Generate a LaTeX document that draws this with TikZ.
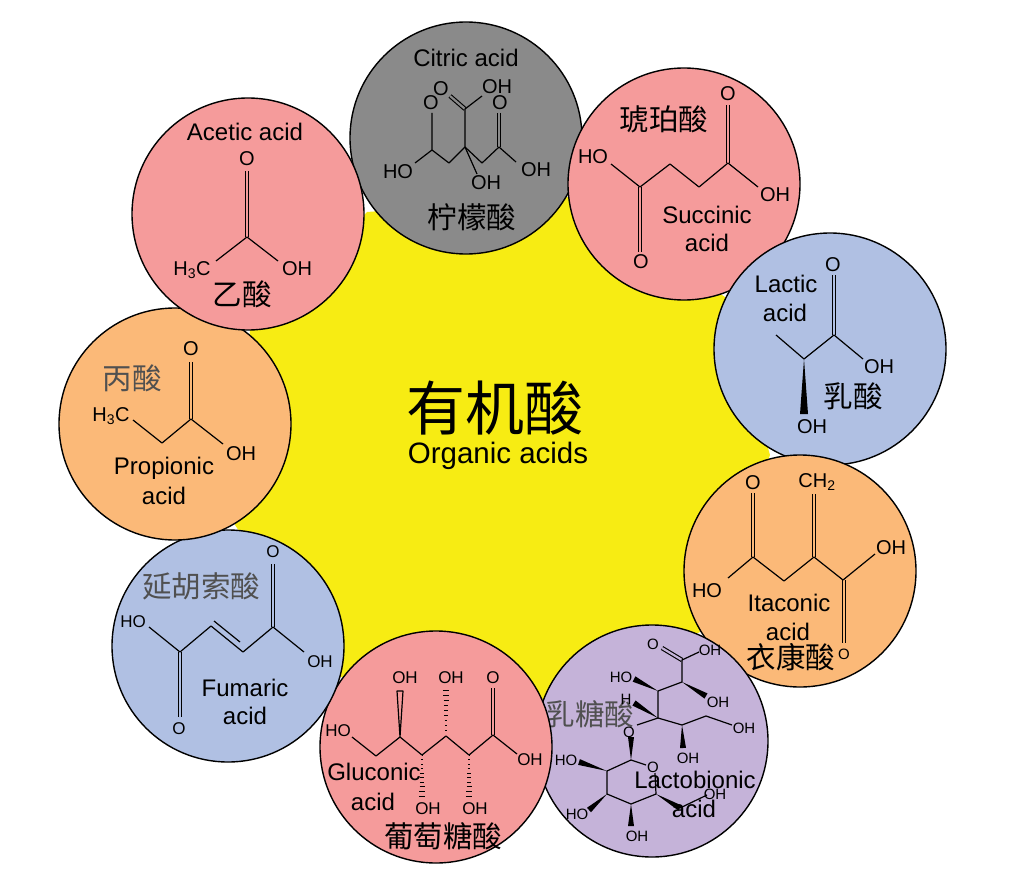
\documentclass[tikz,border=0pt]{standalone}
\usepackage{fontspec}
\setmainfont{Liberation Sans}
\newfontfamily\cjk{Noto Sans CJK SC}
\usetikzlibrary{calc}
\definecolor{acidyellow}{HTML}{F7EC13}
\definecolor{acidpink}{HTML}{F59B9B}
\definecolor{acidorange}{HTML}{FBB978}
\definecolor{acidblue}{HTML}{B0C0E3}
\definecolor{acidgray}{HTML}{8A8A8A}
\definecolor{acidpurple}{HTML}{C5B3D9}
\definecolor{hanzigray}{HTML}{505050}
\tikzset{
  ball/.style={circle,draw=black,line width=1.4pt,fill=#1,minimum size=232pt,inner sep=0pt},
  label24/.style={inner sep=0pt,font=\fontsize{24}{24}\selectfont},
  atom/.style={inner sep=0pt,font=\fontsize{20}{20}\selectfont},
  atoms/.style={inner sep=0pt,font=\fontsize{17}{17}\selectfont},
  atomt/.style={inner sep=0pt,font=\fontsize{15}{15}\selectfont},
  hanzi/.style={inner sep=0pt,text=#1,font=\cjk\fontsize{29.5}{30}\selectfont},
  hanzi/.default=black,
  bond/.style={line width=1.2pt,line join=round},
  dbl/.style={line width=1.1pt,double=#1,double distance=2.2pt},
}
\newcommand{\wedgebond}[3][3]{\fill ($(#3)!#1pt!90:(#2)$) -- (#2) -- ($(#3)!#1pt!-90:(#2)$) -- cycle;}
\newcommand{\hashbond}[3]{\foreach \k in {0,...,9}
  {\draw[line width=1pt] ({#1-.4-.3*\k},{#2+(#3-#2)*\k/9}) -- ({#1+.4+.3*\k},{#2+(#3-#2)*\k/9});}}
\begin{document}
\begin{tikzpicture}[x=1pt,y=-1pt]
  \useasboundingbox (0,0) rectangle (1024,888);
  \fill[acidyellow] (367,212) -- (570,197) -- (725,297) -- (770,455) -- (700,632)
    -- (547,700) -- (340,677) -- (235,525) -- (250,330) -- cycle;
  \node[inner sep=0pt,font=\cjk\fontsize{59}{59}\selectfont] (center) at (495,408) {有机酸};
  \node[inner sep=0pt,font=\fontsize{29.5}{30}\selectfont] (centeren) at (498,456) {Organic acids};

  \node[ball=acidgray] (citric) at (466,138) {};
  \node[label24] (citric1) at (466,58) {Citric acid};
  \node[hanzi] (citric2) at (472,217) {柠檬酸};
  \node[atom] (citO1) at (441,89) {O};
  \node[atom] (citOH1) at (497,87) {OH};
  \node[atom] (citO2) at (431,103) {O};
  \node[atom] (citO3) at (500,103) {O};
  \node[atom] (citHO) at (398,172) {HO};
  \node[atom] (citOH2) at (536,170) {OH};
  \node[atom] (citOH3) at (486,183) {OH};
  \draw[dbl=acidgray] (465,109) -- (450,96);
  \draw[dbl=acidgray] (499,113) -- (499,147);
  \draw[bond] (482,96) -- (465,109) -- (465,147) -- (449,163) -- (432,150) -- (432,113);
  \draw[bond] (415,163) -- (432,150);
  \draw[bond] (465,147) -- (482,163) -- (499,147) -- (516,162);
  \draw[bond] (465,147) -- (477,174);

  \node[ball=acidpink] (succinic) at (684,184) {};
  \node[hanzi] (succinic1) at (664,119) {琥珀酸};
  \node[label24] (succinic2) at (707,215) {Succinic};
  \node[label24] (succinic3) at (707,243) {acid};
  \node[atom] (sucO1) at (728,94) {O};
  \node[atom] (sucOH) at (775,195) {OH};
  \node[atom] (sucHO) at (593,157) {HO};
  \node[atom] (sucO2) at (641,262) {O};
  \draw[dbl=acidpink] (728,105) -- (728,163);
  \draw[dbl=acidpink] (640,187) -- (640,252);
  \draw[bond] (611,164) -- (640,187) -- (670,164) -- (699,187) -- (728,163) -- (758,187);

  \node[ball=acidblue] (lactic) at (830,349) {};
  \node[label24] (lactic1) at (786,284) {Lactic};
  \node[label24] (lactic2) at (785,313) {acid};
  \node[hanzi] (lactic3) at (853,396) {乳酸};
  \node[atom] (lacO) at (833,265) {O};
  \node[atom] (lacOH1) at (879,367) {OH};
  \node[atom] (lacOH2) at (812,427) {OH};
  \draw[dbl=acidblue] (834,275) -- (834,335);
  \draw[bond] (776,335) -- (804,359) -- (834,335) -- (863,359);
  \wedgebond[4]{804,359}{804,414}

  \node[ball=acidorange] (itaconic) at (800,571) {};
  \node[label24] (itaconic1) at (789,603) {Itaconic};
  \node[label24] (itaconic2) at (788,632) {acid};
  \node[hanzi] (itaconic3) at (791,657) {衣康酸};
  \node[atom] (itaO1) at (753,483) {O};
  \node[atom] (itaCH) at (817,482) {CH\textsubscript{2}};
  \node[atom] (itaHO) at (707,591) {HO};
  \node[atom] (itaOH) at (891,548) {OH};
  \node[atomt] (itaO2) at (844,654) {O};
  \draw[dbl=acidorange] (753,493) -- (753,557);
  \draw[dbl=acidorange] (814,494) -- (814,557);
  \draw[dbl=acidorange] (844,580) -- (844,643);
  \draw[bond] (728,578) -- (753,557) -- (784,581) -- (814,557) -- (843,580) -- (875,554);

  \node[ball=acidpurple] (lacto) at (652,741) {};
  \node[hanzi=hanzigray] (lacto1) at (590,714) {乳糖酸};
  \node[atomt] (lbO1) at (653,644) {O};
  \node[atomt] (lbOH1) at (710,650) {OH};
  \node[atomt] (lbHO1) at (621,677) {HO};
  \node[atomt] (lbOH2) at (718,702) {OH};
  \node[atomt] (lbH) at (626,699) {H};
  \node[atomt] (lbOH3) at (744,728) {OH};
  \node[atomt] (lbO2) at (629,732) {O};
  \node[atomt] (lbOH4) at (688,758) {OH};
  \node[atomt] (lbO3) at (653,767) {O};
  \node[atomt] (lbHO2) at (566,760) {HO};
  \node[atomt] (lbHO3) at (577,814) {HO};
  \node[atomt] (lbOH5) at (637,836) {OH};
  \node[atomt] (lbOH6) at (715,794) {OH};
  \draw[dbl=acidpurple] (682,660) -- (662,648);
  \draw[bond] (699,652) -- (682,660) -- (682,682) -- (658,691) -- (658,718) -- (682,725) -- (706,716) -- (732,725);
  \draw[bond] (658,718) -- (637,725);
  \draw[bond] (646,765) -- (631,760) -- (607,771) -- (607,794) -- (631,804) -- (656,794) -- (655,773);
  \draw[bond] (680,808) -- (707,795);
  \wedgebond{682,682}{706,696}
  \wedgebond{658,691}{634,679}
  \wedgebond{658,718}{634,703}
  \wedgebond{682,725}{683,748}
  \wedgebond{631,760}{631,737}
  \wedgebond{607,771}{579,762}
  \wedgebond{607,794}{589,810}
  \wedgebond{631,804}{631,826}
  \wedgebond{656,794}{680,808}
  \node[label24] (lacto2) at (695,780) {Lactobionic};
  \node[label24] (lacto3) at (694,809) {acid};

  \node[ball=acidpink] (gluconic) at (436,747) {};
  \node[label24] (gluconic1) at (374,772) {Gluconic};
  \node[label24] (gluconic2) at (373,802) {acid};
  \node[hanzi] (gluconic3) at (443,836) {葡萄糖酸};
  \node[atoms] (gluOH1) at (405,678) {OH};
  \node[atoms] (gluOH2) at (451,678) {OH};
  \node[atoms] (gluO) at (493,678) {O};
  \node[atoms] (gluHO) at (338,731) {HO};
  \node[atoms] (gluOH3) at (530,760) {OH};
  \node[atoms] (gluOH4) at (428,809) {OH};
  \node[atoms] (gluOH5) at (475,809) {OH};
  \draw[dbl=acidpink] (493,688) -- (493,735);
  \draw[bond] (352,737) -- (376,756) -- (400,737) -- (422,755) -- (446,736) -- (469,755) -- (493,735) -- (517,754);
  \draw[bond] (400,737) -- (397,691) -- (403,691) -- cycle;
  \hashbond{446}{736}{690}
  \hashbond{422}{755}{796}
  \hashbond{469}{755}{796}

  \node[ball=acidblue] (fumaric) at (228,646) {};
  \node[hanzi=hanzigray] (fumaric1) at (201,586) {延胡索酸};
  \node[label24] (fumaric2) at (245,688) {Fumaric};
  \node[label24] (fumaric3) at (245,716) {acid};
  \node[atoms] (fumO1) at (273,552) {O};
  \node[atoms] (fumOH) at (320,662) {OH};
  \node[atoms] (fumHO) at (133,622) {HO};
  \node[atoms] (fumO2) at (179,729) {O};
  \draw[dbl=acidblue] (273,564) -- (273,627);
  \draw[dbl=acidblue] (180,652) -- (180,717);
  \draw[bond] (149,627) -- (180,652) -- (211,626) -- (243,652) -- (273,627) -- (304,652);
  \draw[bond] (214,621) -- (240,642);

  \node[ball=acidorange] (propionic) at (175,424) {};
  \node[hanzi=hanzigray] (propionic1) at (132,378) {丙酸};
  \node[label24] (propionic2) at (164,468) {Propionic};
  \node[label24] (propionic3) at (164,496) {acid};
  \node[atom] (proO) at (191,349) {O};
  \node[atom] (proCH) at (111,416) {H\textsubscript{3}C};
  \node[atom] (proOH) at (241,454) {OH};
  \draw[dbl=acidorange] (191,362) -- (191,419);
  \draw[bond] (133,420) -- (162,443) -- (191,419) -- (223,444);

  \node[ball=acidpink] (acetic) at (248,214) {};
  \node[label24] (acetic1) at (245,132) {Acetic acid};
  \node[hanzi] (acetic2) at (242,294) {乙酸};
  \node[atom] (aceO) at (247,159) {O};
  \node[atom] (aceCH) at (192,270) {H\textsubscript{3}C};
  \node[atom] (aceOH) at (297,269) {OH};
  \draw[dbl=acidpink] (247,171) -- (247,237);
  \draw[bond] (216,261) -- (247,237) -- (278,261);
\end{tikzpicture}
\end{document}
